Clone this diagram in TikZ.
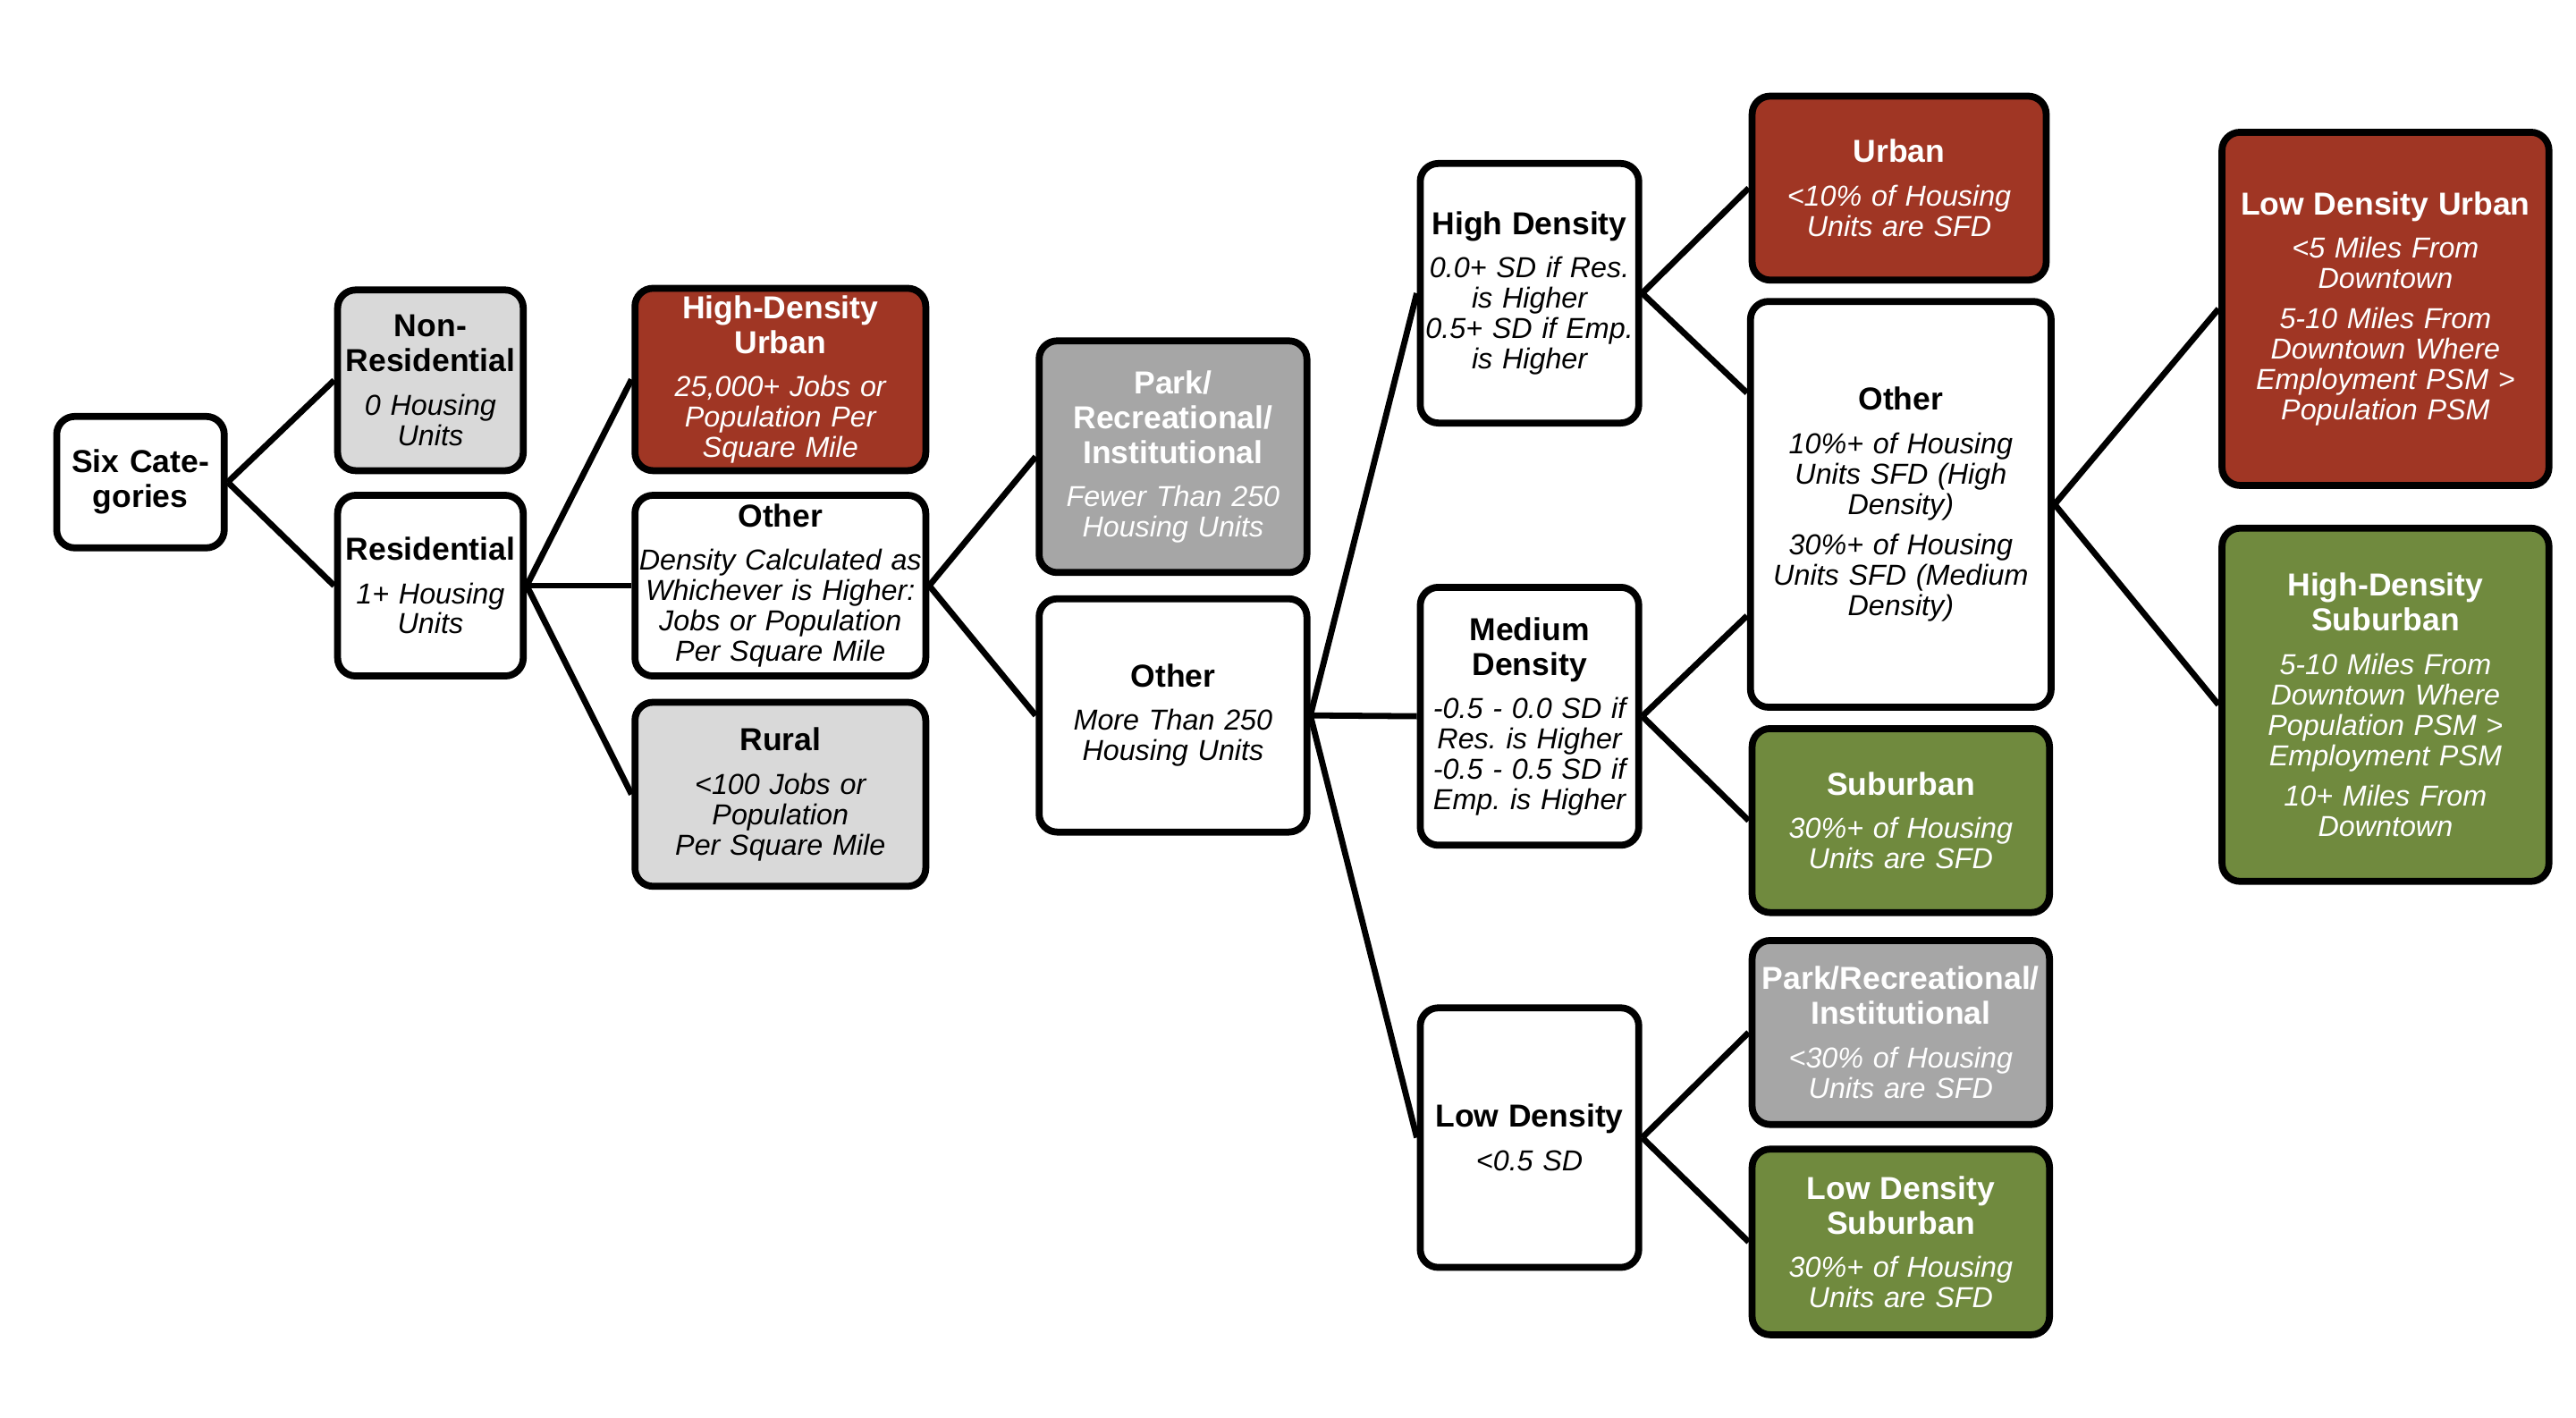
\documentclass[tikz,border=0pt]{standalone}
\usepackage{fontspec}
\setmainfont{Liberation Sans}
\usetikzlibrary{calc}

\definecolor{urbred}{RGB}{160,54,36}
\definecolor{subgreen}{RGB}{112,138,62}
\definecolor{nonresgray}{RGB}{217,217,217}
\definecolor{parkgray}{RGB}{166,166,166}

\setlength{\parindent}{0pt}
\frenchspacing
\newcommand{\cattitle}[1]{{\fontsize{11}{12.1}\selectfont\bfseries\upshape #1\par}\vspace{4.5pt}\noindent}

\tikzset{
    box/.style={draw, line width=2.4pt, rounded corners=0.22cm, fill=white, align=center,
        inner xsep=0pt, inner ysep=2pt, font=\fontsize{10}{10.5}\selectfont\itshape},
    boxsize/.style n args={2}{text width=#1cm, minimum height=#2cm},
    pale/.style={fill=nonresgray},
    urb/.style={fill=urbred, text=white},
    sub/.style={fill=subgreen, text=white},
    park/.style={fill=parkgray, text=white},
    link/.style={line width=2.1pt}
}

\begin{document}
\begin{tikzpicture}
    \useasboundingbox (0,0) rectangle (31.36,-17.26);

    \node[box, boxsize={2.04}{1.6}, font=\fontsize{11}{12.1}\selectfont\bfseries] (six) at (1.71,-5.87) {Six Cate-\\gories};

    \node[box, pale, boxsize={2.26}{2.2}] (nonres) at (5.24,-4.63) {\cattitle{Non-\\Residential}0 Housing\\Units};
    \node[box, boxsize={2.26}{2.2}] (res) at (5.24,-7.13) {\cattitle{Residential}1+ Housing\\Units};

    \node[box, urb, boxsize={3.54}{2.22}] (hdu) at (9.5,-4.62) {\cattitle{High-Density\\Urban}25,000+ Jobs or\\Population Per\\Square Mile};
    \node[box, boxsize={3.54}{2.2}] (oth1) at (9.5,-7.13) {\cattitle{Other}Density Calculated as\\Whichever is Higher:\\Jobs or Population\\Per Square Mile};
    \node[box, pale, boxsize={3.54}{2.24}] (rural) at (9.5,-9.67) {\cattitle{Rural}<100 Jobs or\\Population\\Per Square Mile};

    \node[box, park, boxsize={3.26}{2.82}] (park1) at (14.28,-5.56) {\cattitle{Park/\\Recreational/\\Institutional}Fewer Than 250\\Housing Units};
    \node[box, boxsize={3.26}{2.84}] (oth2) at (14.28,-8.71) {\cattitle{Other}More Than 250\\Housing Units};

    \node[box, boxsize={2.66}{3.16}] (hd) at (18.62,-3.57) {\cattitle{High Density}0.0+ SD if Res.\\is Higher\\0.5+ SD if Emp.\\is Higher};
    \node[box, boxsize={2.66}{3.14}] (md) at (18.62,-8.72) {\cattitle{Medium\\Density}-0.5 - 0.0 SD if\\Res. is Higher\\-0.5 - 0.5 SD if\\Emp. is Higher};
    \node[box, boxsize={2.66}{3.16}] (ld) at (18.62,-13.85) {\cattitle{Low Density}<0.5 SD};

    \node[box, urb, boxsize={3.58}{2.24}] (urban) at (23.12,-2.29) {\cattitle{Urban}<10\% of Housing\\Units are SFD};
    \node[box, boxsize={3.66}{4.94}] (oth3) at (23.14,-6.14) {\cattitle{Other}10\%+ of Housing\\Units SFD (High\\Density)\\[3.5pt]30\%+ of Housing\\Units SFD (Medium\\Density)};
    \node[box, sub, boxsize={3.62}{2.24}] (suburban) at (23.14,-9.99) {\cattitle{Suburban}30\%+ of Housing\\Units are SFD};
    \node[box, park, boxsize={3.62}{2.24}] (park2) at (23.14,-12.57) {\cattitle{Park/Recreational/\\Institutional}<30\% of Housing\\Units are SFD};
    \node[box, sub, boxsize={3.62}{2.26}] (lds) at (23.14,-15.12) {\cattitle{Low Density\\Suburban}30\%+ of Housing\\Units are SFD};

    \node[box, urb, boxsize={3.98}{4.3}] (ldu) at (29.04,-3.76) {\cattitle{Low Density Urban}<5 Miles From\\Downtown\\[3.5pt]5-10 Miles From\\Downtown Where\\Employment PSM >\\Population PSM};
    \node[box, sub, boxsize={3.98}{4.3}] (hds) at (29.04,-8.58) {\cattitle{High-Density\\Suburban}5-10 Miles From\\Downtown Where\\Population PSM >\\Employment PSM\\[3.5pt]10+ Miles From\\Downtown};

    \foreach \from/\to in {six/nonres, six/res, res/hdu, res/oth1, res/rural, oth1/park1, oth1/oth2,
        oth2/hd, oth2/md, oth2/ld, hd/urban, md/suburban, ld/park2, ld/lds, oth3/ldu, oth3/hds}
        \draw[link] (\from.east) -- (\to.west);

    % the tall Other box takes two branches
    \coordinate (oth3top) at ($(oth3.north west)!0.23!(oth3.south west)$);
    \coordinate (oth3bot) at ($(oth3.north west)!0.77!(oth3.south west)$);
    \draw[link] (hd.east) -- (oth3top);
    \draw[link] (md.east) -- (oth3bot);
\end{tikzpicture}
\end{document}
